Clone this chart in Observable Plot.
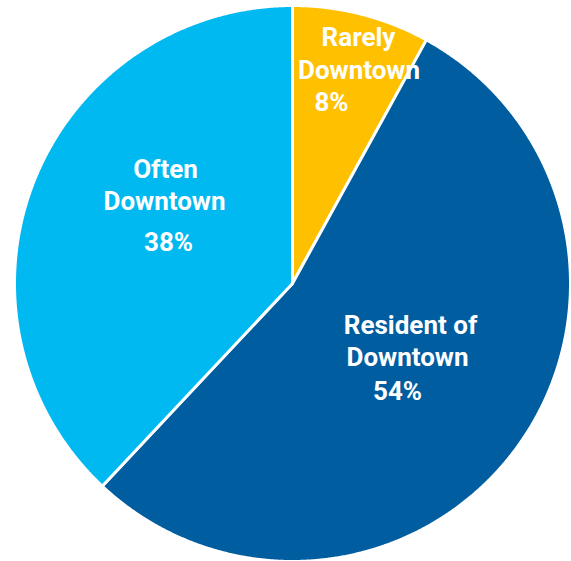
<!DOCTYPE html>
<html>
<head>
<meta charset="utf-8">
<script src="https://cdn.jsdelivr.net/npm/d3@7"></script>
<script src="https://cdn.jsdelivr.net/npm/@observablehq/plot@0.6"></script>
<style>
  html, body { margin: 0; padding: 0; background: #ffffff; }
  #chart svg { display: block; }
</style>
</head>
<body>
<div id="chart"></div>
<script>
// ---- data ----
const categories = ["Rarely Downtown", "Resident of Downtown", "Often Downtown"];
const values = [8, 54, 38];
const labelLines = [["Rarely", "Downtown"], ["Resident of", "Downtown"], ["Often", "Downtown"]];
const pctLabels = ["8%", "54%", "38%"];

// ---- layout / style (not data) ----
const W = 571, H = 561;
const cx = 292, cy = 283, R = 278;
const colors = ["#FFC000", "#005DA0", "#00B9F1"];
// label line placement: pixel offsets of each line's baseline centre from the pie centre
const labelLayout = [
  [[66, -238], [66.5, -205], [39, -173]],
  [[118, 50], [115, 82], [105, 116]],
  [[-127, -106], [-128, -74], [-124, -33]]
];

const total = d3.sum(values);
const angles = [];
let acc = 0;
values.forEach(v => { const a0 = acc / total * 2 * Math.PI; acc += v; angles.push([a0, acc / total * 2 * Math.PI]); });

// slice polygons in unit-circle coordinates (clockwise from 12 o'clock)
function slicePoints(i) {
  const [a0, a1] = angles[i];
  const pts = [{x: 0, y: 0}];
  const n = Math.max(4, Math.ceil((a1 - a0) / (Math.PI / 720)));
  for (let k = 0; k <= n; k++) {
    const a = a0 + (a1 - a0) * k / n;
    pts.push({x: Math.sin(a), y: Math.cos(a)});
  }
  pts.push({x: 0, y: 0});
  return pts;
}

const textRows = [];
categories.forEach((c, i) => {
  const lines = [...labelLines[i], pctLabels[i]];
  lines.forEach((t, j) => {
    const [ox, oy] = labelLayout[i][j];
    textRows.push({text: t, x: ox / R, y: -oy / R});
  });
});

const marks = categories.map((c, i) =>
  Plot.line(slicePoints(i), {
    x: "x", y: "y",
    fill: colors[i], stroke: "#ffffff", strokeWidth: 3,
    strokeLinejoin: "round", curve: "linear"
  })
);
marks.push(Plot.text(textRows, {
  x: "x", y: "y", text: "text",
  fill: "#ffffff", fontSize: 26, fontWeight: 700,
  fontFamily: "Roboto, 'Noto Sans', sans-serif",
  textAnchor: "middle", lineAnchor: "bottom"
}));

const chart = Plot.plot({
  width: W, height: H, margin: 0,
  x: {domain: [-1, 1], range: [cx - R, cx + R], axis: null},
  y: {domain: [-1, 1], range: [cy + R, cy - R], axis: null},
  style: {background: "#ffffff"},
  marks
});
document.getElementById("chart").appendChild(chart);
</script>
</body>
</html>
